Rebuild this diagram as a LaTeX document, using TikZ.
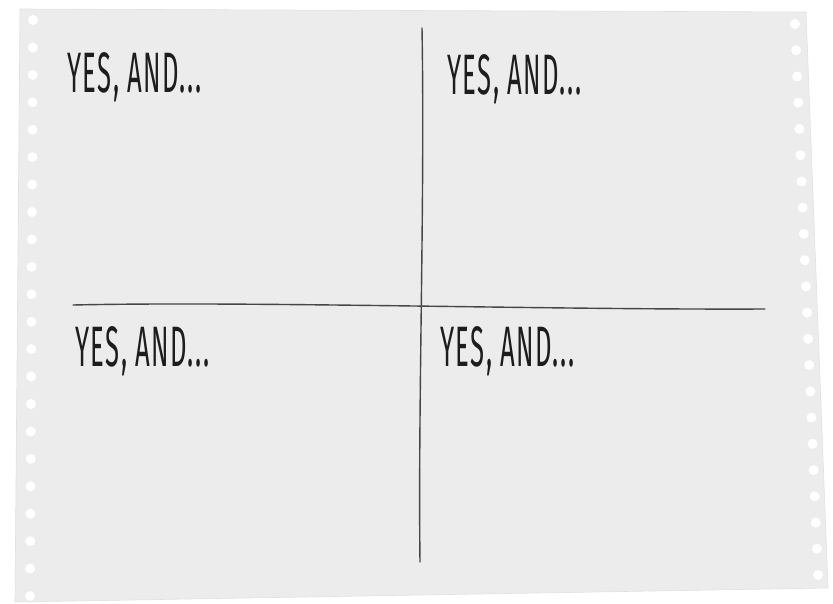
\documentclass[tikz,border=0pt]{standalone}
\usepackage{fontspec}
\usetikzlibrary{calc}
\newfontfamily\handfont[FakeStretch=0.45,LetterSpace=2.5]{Fira Sans}
\definecolor{sheetgray}{RGB}{236,236,236}
\definecolor{sheetedge}{RGB}{225,225,225}
\definecolor{penink}{RGB}{70,70,70}
\definecolor{textink}{RGB}{30,28,28}
\tikzset{
  sheet/.style={fill=sheetgray, draw=sheetedge, line width=0.6pt},
  hole/.style={fill=white, draw=none},
  pen/.style={draw=penink, line width=1.4pt, line cap=round, line join=round},
  yesand/.style={font=\handfont\fontsize{57}{57}\selectfont, text=textink,
    anchor=base west, inner sep=0pt}
}
\begin{document}
\begin{tikzpicture}[x=1pt,y=-1pt]
  \useasboundingbox (0,0) rectangle (833,603);
  % paper sheet
  \coordinate (tl) at (20,9);
  \coordinate (tr) at (806,12);
  \coordinate (br) at (828,588);
  \coordinate (bl) at (15,602);
  \draw[sheet] (tl) -- (tr) -- (br) -- (bl) -- cycle;
  % tractor feed holes
  \foreach \i in {0,...,21}{
    \fill[hole] ($(33,20)!\i/21!(30,596)$) circle (5);
  }
  \foreach \i in {0,...,21}{
    \fill[hole] ($(795,24)!\i/21!(818,575)$) circle (5);
  }
  % the cross
  \coordinate (vtop) at (422,28);
  \coordinate (vbot) at (420,562);
  \coordinate (hleft) at (73,305);
  \coordinate (hright) at (765,309);
  \draw[pen] (vtop) .. controls (425,200) and (418,400) .. (vbot);
  \draw[pen] (hleft) .. controls (250,301) and (550,310) .. (hright);
  % labels
  \node[yesand] (q1) at (67,92) {YES, AND...};
  \node[yesand] (q2) at (447,94) {YES, AND...};
  \node[yesand] (q3) at (75,366) {YES, AND...};
  \node[yesand] (q4) at (440,366) {YES, AND...};
\end{tikzpicture}
\end{document}
